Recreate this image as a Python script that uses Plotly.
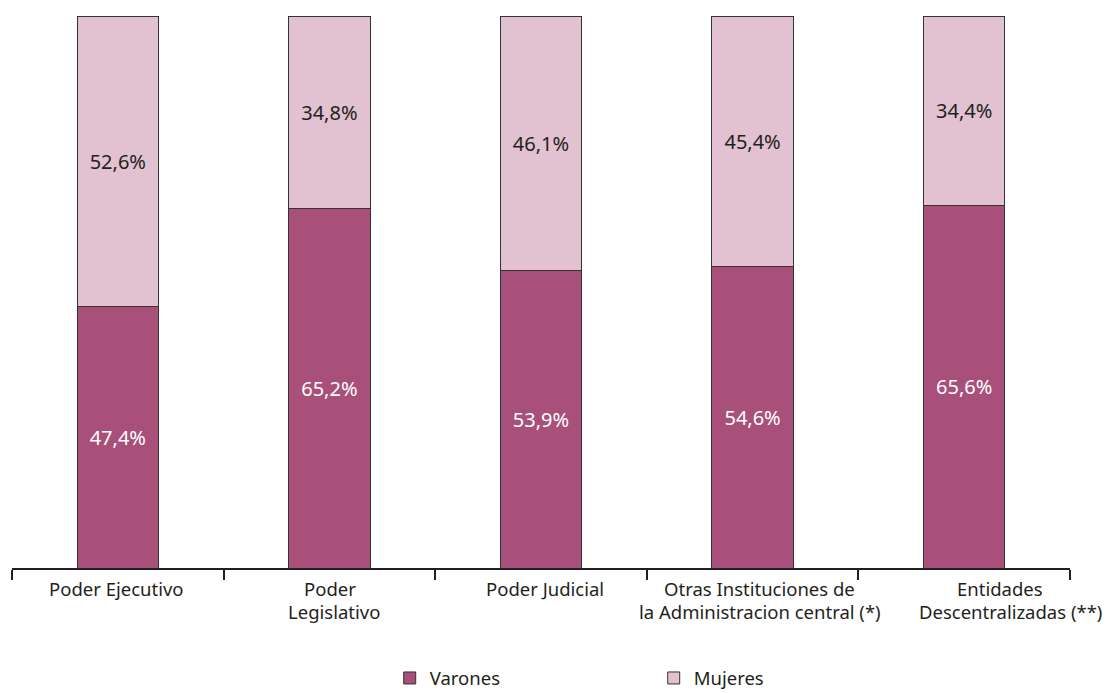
import plotly.graph_objects as go

categories = ["Poder Ejecutivo", "Poder Legislativo", "Poder Judicial",
              "Otras Instituciones de la Administracion central (*)",
              "Entidades Descentralizadas (**)"]
category_lines = [["Poder Ejecutivo"], ["Poder", "Legislativo"], ["Poder Judicial"],
                  ["Otras Instituciones de", "la Administracion central (*)"],
                  ["Entidades", "Descentralizadas (**)"]]
label_shifts = [[-1], [1, 5], [4], [7, 7], [36, 46]]
varones = [47.4, 65.2, 53.9, 54.6, 65.6]
mujeres = [52.6, 34.8, 46.1, 45.4, 34.4]

def fmt(v):
    return f"{v:.1f}%".replace(".", ",")

FONT = "Noto Sans"
DARK = "#231f20"
fig = go.Figure()
fig.add_trace(go.Bar(
    x=categories, y=varones, name="Varones",
    marker=dict(color="#A84F7A", line=dict(color="#333333", width=1)),
    text=[fmt(v) for v in varones], textposition="inside",
    insidetextanchor="middle", textangle=0,
    textfont=dict(color="white", size=20, family=FONT),
    width=0.385,
))
fig.add_trace(go.Bar(
    x=categories, y=mujeres, name="Mujeres",
    marker=dict(color="#E2C1D0", line=dict(color="#333333", width=1)),
    text=[fmt(v) for v in mujeres], textposition="inside",
    insidetextanchor="middle", textangle=0,
    textfont=dict(color=DARK, size=20, family=FONT),
    width=0.385,
))

# page body has an 8px margin: figure is sized/margined to compensate
line_y = [-0.038, -0.078]
for cat, lines, shifts in zip(categories, category_lines, label_shifts):
    for i, (ln, sh) in enumerate(zip(lines, shifts)):
        fig.add_annotation(x=cat, y=line_y[i], xref="x", yref="paper", text=ln,
                           showarrow=False, yanchor="middle", xanchor="center",
                           xshift=sh, font=dict(size=18.5, color=DARK, family=FONT))

fig.update_layout(
    barmode="stack",
    width=1106, height=685,
    margin=dict(l=4, r=44, t=8, b=125, autoexpand=False),
    plot_bgcolor="white", paper_bgcolor="white",
    font=dict(family=FONT, size=18.5, color=DARK),
    showlegend=True,
    legend=dict(orientation="h", x=0.357, y=0.049, xref="paper", yref="container",
                xanchor="left", yanchor="top",
                entrywidth=219, entrywidthmode="pixels",
                font=dict(size=18.5, family=FONT, color=DARK),
                traceorder="normal"),
    xaxis=dict(type="category", range=[-0.5, 4.5], showticklabels=False,
               showline=True, linecolor=DARK, linewidth=2, automargin=False,
               ticks="outside", tickson="boundaries", ticklen=10,
               tickcolor=DARK, tickwidth=2, showgrid=False, fixedrange=True),
    yaxis=dict(range=[0, 100], visible=False, showgrid=False, zeroline=False),
)

fig.write_html("out.html")
